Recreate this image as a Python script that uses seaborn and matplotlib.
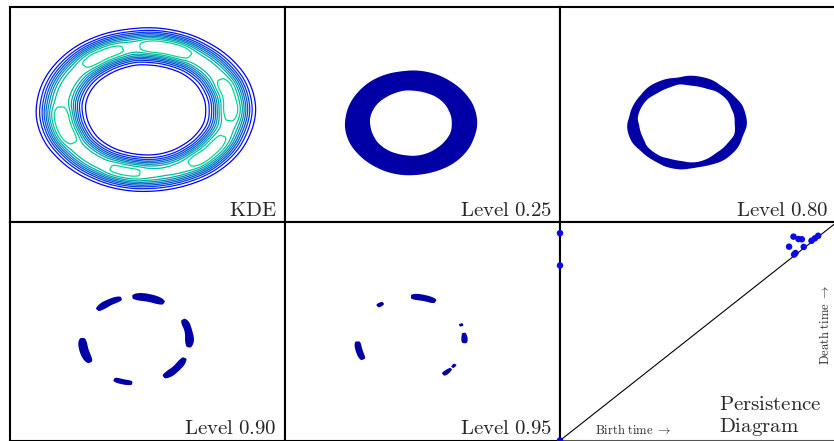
import numpy as np
import pandas as pd
import matplotlib
matplotlib.use("Agg")
import matplotlib.pyplot as plt
import seaborn as sns

# ---- ring density: flat-cored radial profile modulated along the angle ----
ring_radius = 1.0
ring_core = 0.025
ring_sigma = 0.135
ring_power = 2.2
ring_base = 0.86

# flat-topped dense arcs (centre deg, half-width deg, height)
arc_angle_deg = [76, 121, 9.5, -41.5, -104, 194.5]
arc_width_deg = [14.3, 14.0, 17.3, 15.6, 10.7, 14.1]
arc_height = [0.14, 0.092, 0.09, 0.09, 0.07, 0.13]

# small gaussian spots on top of the arcs (centre deg, width deg, height)
spot_angle_deg = [0, 22, -35, -51, -78, 86, 126]
spot_width_deg = [5, 3, 4, 5, 7, 6, 3]
spot_height = [0.034, 0.018, 0.008, 0.022, -0.03, 0.01, 0.014]

# contour levels of the KDE panel and the superlevel cuts
kde_levels = [0.1, 0.2, 0.3, 0.4, 0.5, 0.6, 0.7, 0.8, 0.9]
level_cuts = [0.25, 0.80, 0.90, 0.95]
level_labels = ["Level 0.25", "Level 0.80", "Level 0.90", "Level 0.95"]

# persistence diagram (birth, death)
births = [0.0, 0.0, 0.0, 0.843, 0.861, 0.873, 0.827, 0.880, 0.908, 0.920, 0.932, 0.850, 0.845]
deaths = [0.949, 0.801, 0.0, 0.933, 0.922, 0.921, 0.887, 0.886, 0.914, 0.925, 0.937, 0.858, 0.851]

# ---- evaluate the density on a grid ----
g = np.linspace(-2.9, 2.9, 600)
X, Y = np.meshgrid(g, g)
R = np.hypot(X, Y)
TH = np.degrees(np.arctan2(Y, X))


def ang_diff(c):
    return (TH - c + 180.0) % 360.0 - 180.0


A = np.full_like(R, ring_base)
for c, w, h in zip(arc_angle_deg, arc_width_deg, arc_height):
    A += h * np.exp(-0.5 * (ang_diff(c) / w) ** 4)
for c, w, h in zip(spot_angle_deg, spot_width_deg, spot_height):
    A += h * np.exp(-0.5 * (ang_diff(c) / w) ** 2)
D = np.maximum(np.abs(R - ring_radius) - ring_core, 0.0)
F = A * np.exp(-0.5 * (D / ring_sigma) ** ring_power)
F /= F.max()

sns.set_style("white")
plt.rcParams["mathtext.fontset"] = "cm"
plt.rcParams["font.family"] = ["DejaVu Serif"]

W, H = 834, 441
fig = plt.figure(figsize=(W / 100, H / 100), dpi=100)

col_left = [10, 285, 560]
col_right = [285, 560, 837]
row_top = [7, 222]
row_bottom = [222, 440.5]


def make_ax(r, c):
    l, rr = col_left[c], col_right[c]
    t, b = row_top[r], row_bottom[r]
    ax = fig.add_axes([l / W, (H - b) / H, (rr - l) / W, (b - t) / H])
    ax.set_xticks([])
    ax.set_yticks([])
    for s in ax.spines.values():
        s.set_color("black")
        s.set_linewidth(1.5)
    return ax


def corner_label(ax, text, dy=6):
    ax.annotate(text, xy=(1, 0), xycoords="axes fraction",
                xytext=(-8, dy), textcoords="offset pixels",
                ha="right", va="baseline", fontsize=15)


def cm_text(s):
    return r"$\mathrm{" + s.replace(" ", r"\ ") + "}$"


# KDE contours
ax = make_ax(0, 0)
cols = plt.cm.winter(np.linspace(0, 0.85, len(kde_levels)))
ax.contour(X, Y, F, levels=kde_levels, colors=cols, linewidths=0.9)
ax.set_xlim(-1.6, 1.64)
ax.set_ylim(-1.77, 1.62)
corner_label(ax, cm_text("KDE"))

# superlevel sets
fill_color = "#0000A6"
positions = [(0, 1), (0, 2), (1, 0), (1, 1)]
for (r, c), cut, lab in zip(positions, level_cuts, level_labels):
    ax = make_ax(r, c)
    ax.contourf(X, Y, F, levels=[cut, 2.0], colors=[fill_color], antialiased=True)
    ax.set_xlim(-2.355, 2.785)
    ax.set_ylim(-2.33, 2.73)
    corner_label(ax, cm_text(lab))

# persistence diagram
ax = make_ax(1, 2)
diag = pd.DataFrame({"x": [0.0, 1.0], "y": [0.0, 1.0]})
sns.lineplot(data=diag, x="x", y="y", ax=ax, color="black", linewidth=0.8)
pts = pd.DataFrame({"birth": births, "death": deaths})
sns.scatterplot(data=pts, x="birth", y="death", ax=ax, color="#0a0ae6",
                s=22, edgecolor="none", zorder=5, clip_on=False)
ax.set_xlim(0, 1)
ax.set_ylim(0, 1)
ax.set_xlabel("")
ax.set_ylabel("")
ax.set_xticks([])
ax.set_yticks([])
ax.spines["bottom"].set_color("#555555")
ax.text(35 / 277, 3 / 218.5, r"$\mathrm{Birth\ time}\ \rightarrow$",
        transform=ax.transAxes, fontsize=9, ha="left", va="bottom")
ax.text(265 / 277, 0.53, r"$\mathrm{Death\ time}\ \rightarrow$",
        transform=ax.transAxes, fontsize=9, ha="center", va="center", rotation=90)
ax.text(159 / 277, 31 / 218.5, cm_text("Persistence"), transform=ax.transAxes,
        fontsize=15, ha="left", va="baseline")
ax.text(159 / 277, 8 / 218.5, cm_text("Diagram"), transform=ax.transAxes,
        fontsize=15, ha="left", va="baseline")

fig.savefig("out.png", dpi=100)
